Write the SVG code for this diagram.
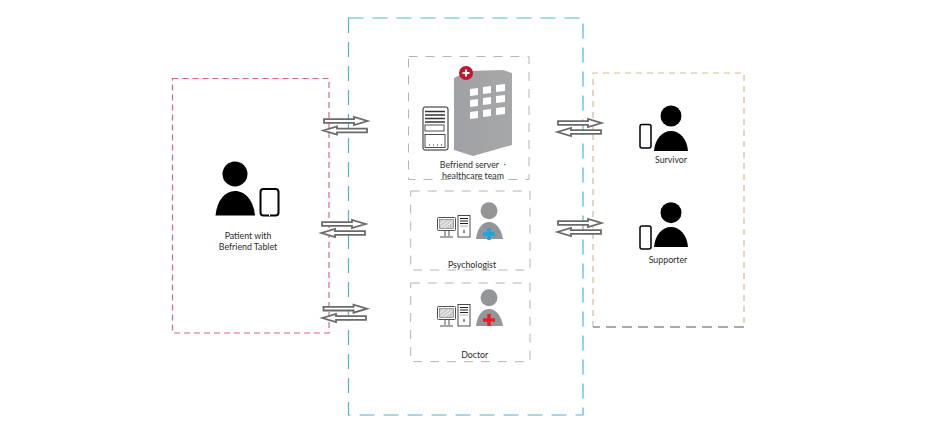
<svg xmlns="http://www.w3.org/2000/svg" width="932" height="430" viewBox="0 0 932 430">
<style>
text{font-family:"Lato","Open Sans",sans-serif;font-size:8.800px;fill:#2b2b2b;text-anchor:middle}
.box{fill:none;stroke-width:1.200}
.inner{stroke:#b4b4b4;stroke-dasharray:9 8;stroke-width:1}
.arrow{fill:#fff;stroke:#6a6a6a;stroke-width:1.800}
.dev{fill:#fff;stroke:#000;stroke-width:2}
.ln{fill:none;stroke:#3a3a3a;stroke-width:.9}
</style>
<defs>
<path id="ar" class="arrow" d="M0-1.800H30V-4L43.500 0 30 4V1.800H0Z"/>
<path id="al" class="arrow" d="M44-1.800H14V-4L.500 0 14 4V1.800H44Z"/>
<linearGradient id="bld" x1="0" y1="0" x2="1" y2="0"><stop offset="0" stop-color="#a0a1a4"/><stop offset="1" stop-color="#a6a7a9"/></linearGradient>
<g id="pc">
<rect x="437.500" y="217.500" width="18" height="13" class="ln" rx="1"/>
<rect x="439.500" y="219.500" width="14" height="9" fill="#ccc" stroke="#555" stroke-width=".5"/>
<path d="M441 227l8-6M444 228l8-6M440 224l5-4" stroke="#fff" stroke-width=".8"/>
<path class="ln" d="M445 231v5M449 231v5M440 237h13"/>
<rect x="458" y="215.500" width="12" height="21.500" class="ln"/>
<path d="M460 218.500h8M460 221h8M460 223.500h8" stroke="#222" stroke-width="1"/>
<path d="M460 226h8" stroke="#999" stroke-width=".8"/>
<path d="M464 230v3" stroke="#222" stroke-width="1"/>
</g>
<g id="doc">
<circle cx="489" cy="210.700" r="8.500" fill="#939598"/>
<path d="M476 239C477 229 482 222 489 222S501.500 229 503 239Z" fill="#939598"/>
</g>
</defs>
<rect width="932" height="430" fill="#fff"/>

<g id="patient-group">
<rect class="box" x="172.500" y="78.500" width="156.500" height="254.500" stroke="#d9657c" stroke-dasharray="6 4"/>
<circle cx="235" cy="174" r="12.500" fill="#000"/>
<path d="M215.500 215.500C217 200 225 191 235 191S253.500 200 255 215.500Z" fill="#000"/>
<rect class="dev" x="260.500" y="189" width="18" height="26.500" rx="3"/>
<path d="M269.500 213v3" stroke="#fff" stroke-width="1"/>
<text x="248" y="239">Patient with</text>
<text x="248" y="250">Befriend Tablet</text>
</g>

<g id="care-team">
<rect class="box" x="348.500" y="18" width="234.500" height="397" stroke="#4fb3d9" stroke-width="1.500" stroke-dasharray="15 9"/>
</g>

<g id="community">
<path class="box" d="M593 327V73H744V327" stroke="#d8b894" stroke-dasharray="6 5"/>
<path class="box" d="M744 327H593" stroke="#555" stroke-dasharray="10 6"/>
</g>

<g id="connectors">
<use href="#ar" x="324" y="121"/>
<use href="#al" x="323" y="130.500"/>
<use href="#ar" x="322" y="224"/>
<use href="#al" x="321" y="233"/>
<use href="#ar" x="323.500" y="308.700"/>
<use href="#al" x="322" y="318"/>
<use href="#ar" x="558" y="123"/>
<use href="#al" x="557" y="132"/>
<use href="#ar" x="558" y="223"/>
<use href="#al" x="557" y="232"/>
</g>

<g id="server-team">
<text x="473" y="168">Befriend server +</text>
<text x="473" y="179">healthcare team</text>
<rect x="500" y="161" width="4" height="8" fill="#fff"/>
<rect class="box inner" x="408.500" y="56.500" width="120.500" height="123"/>
<polygon points="454,78 468,71 503,70 512,73 512,145 473,156 454,150" fill="url(#bld)"/>
<g fill="#fff">
<polygon points="470,89 478,88 478,95 470,96"/><polygon points="483,87 491,86 491,93 483,94"/><polygon points="496,85 505,84 505,91 496,92"/>
<polygon points="470,100 478,99 478,106 470,107"/><polygon points="483,98 491,97 491,104 483,105"/><polygon points="496,96 505,95 505,102 496,103"/>
<polygon points="470,112 478,111 478,118 470,119"/><polygon points="483,110 491,109 491,116 483,117"/><polygon points="496,108 505,107 505,114 496,115"/>
</g>
<circle cx="466" cy="73" r="7" fill="#c4122f"/>
<path d="M466 69.500v7M462.500 73h7" stroke="#fff" stroke-width="2"/>
<rect x="423" y="107" width="25" height="43" rx="2" fill="#fff" stroke="#222" stroke-width="1"/>
<path d="M425 111.500h20M425 115h20M425 118.500h20M425 122h20" stroke="#333" stroke-width="1.300"/>
<rect x="425" y="125" width="19" height="6" class="ln"/>
<rect x="425" y="134.500" width="20" height="13" class="ln"/>
<path d="M429 145h1M433 145h1M437 145h1M441 145h1" stroke="#222" stroke-width="1"/>
</g>

<g id="psychologist">
<rect class="box inner" x="410.700" y="191" width="119.300" height="79"/>
<use href="#pc"/>
<use href="#doc"/>
<path d="M489 228v12M483 234h12" stroke="#1aa7e0" stroke-width="3.500"/>
<text x="472" y="268">Psychologist</text>
</g>

<g id="doctor">
<rect class="box inner" x="410.700" y="283" width="119.300" height="78.700"/>
<use href="#pc" y="89"/>
<use href="#doc" y="87"/>
<path d="M489 314v12M483 320h12" stroke="#ed1c24" stroke-width="3.500"/>
<text x="474.700" y="358">Doctor</text>
</g>

<g id="survivor">
<circle cx="671" cy="116" r="10.500" fill="#000"/>
<path d="M654 151C655 139 662 131 671 131S687 139 688 151Z" fill="#000"/>
<rect x="640" y="124.500" width="11" height="23.500" rx="2" fill="#fff" stroke="#000" stroke-width="1.500"/>
<text x="671" y="163">Survivor</text>
</g>

<g id="supporter">
<circle cx="671" cy="212.700" r="10.500" fill="#000"/>
<path d="M654 247C655 235 662 227 671 227S687 235 688 247Z" fill="#000"/>
<rect x="640" y="226" width="11" height="23" rx="2" fill="#fff" stroke="#000" stroke-width="1.500"/>
<text x="668" y="263">Supporter</text>
</g>
</svg>
